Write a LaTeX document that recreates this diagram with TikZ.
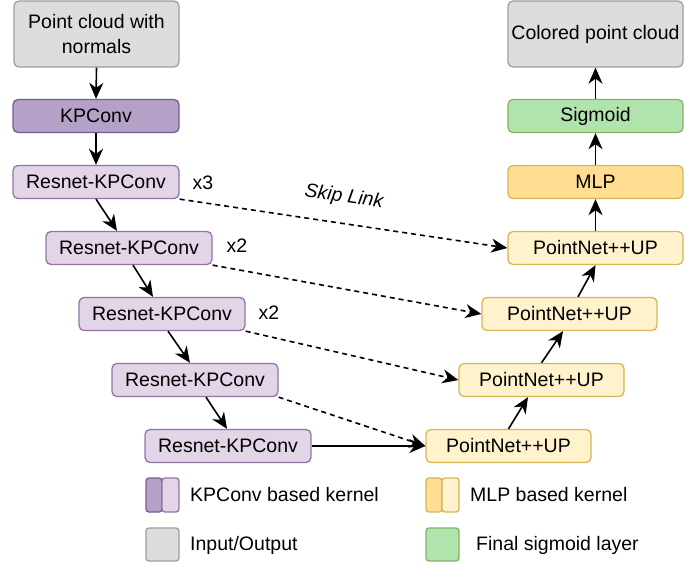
\documentclass[tikz,border=0pt]{standalone}
\usepackage{fontspec}
\setmainfont{Liberation Sans}
\usetikzlibrary{arrows.meta}

\definecolor{iogray}{HTML}{DDDDDD}
\definecolor{iograyline}{HTML}{9E9E9E}
\definecolor{kpdark}{HTML}{B5A0C8}
\definecolor{kpdarkline}{HTML}{7A5A8E}
\definecolor{kplight}{HTML}{E1D5E7}
\definecolor{kplightline}{HTML}{9673A6}
\definecolor{mlpdark}{HTML}{FFDD93}
\definecolor{mlplight}{HTML}{FFF2CC}
\definecolor{mlpline}{HTML}{D6B656}
\definecolor{siggreen}{HTML}{B0E4AC}
\definecolor{siggreenline}{HTML}{82B366}

\begin{document}
\begin{tikzpicture}[x=1pt, y=-1pt,
    txt/.style={font=\fontsize{19.5}{25}\selectfont},
    blk/.style={txt, draw, rounded corners=5pt, line width=1.3pt, minimum height=33pt, inner sep=0pt},
    kpres/.style={blk, fill=kplight, draw=kplightline, minimum width=166pt},
    pnup/.style={blk, fill=mlplight, draw=mlpline},
    arr/.style={-{Stealth[length=16pt,width=14pt,inset=5pt]}, line width=1.6pt},
    skip/.style={arr, dash pattern=on 5pt off 4pt},
    key/.style={rounded corners=3pt, line width=1.3pt}]
    \useasboundingbox (0,0) rectangle (700,562);

    % encoder
    \node[blk, fill=iogray, draw=iograyline, minimum width=165pt, minimum height=66pt, align=center] (inp) at (96.5,34) {Point cloud with\\normals};
    \node[blk, fill=kpdark, draw=kpdarkline, minimum width=166pt] (kp) at (96,116) {KPConv};
    \foreach \i/\x/\y in {1/96/182, 2/129/248, 3/162/314, 4/195/380, 5/228/446}
        \node[kpres] (r\i) at (\x,\y) {Resnet-KPConv};
    \node[txt] (rep1) at (203,183) {x3};
    \node[txt] (rep2) at (237,246) {x2};
    \node[txt] (rep3) at (269,313) {x2};

    % decoder
    \node[blk, fill=iogray, draw=iograyline, minimum width=175pt, minimum height=66pt] (out) at (595.5,34) {Colored point cloud};
    \node[blk, fill=siggreen, draw=siggreenline, minimum width=175pt] (sig) at (595.5,116) {Sigmoid};
    \node[blk, fill=mlpdark, draw=mlpline, minimum width=175pt] (mlp) at (595.5,182) {MLP};
    \node[pnup, minimum width=175pt] (p1) at (595.5,248) {PointNet++UP};
    \node[pnup, minimum width=175pt] (p2) at (569.5,314) {PointNet++UP};
    \node[pnup, minimum width=165pt] (p3) at (541.5,380) {PointNet++UP};
    \node[pnup, minimum width=165pt] (p4) at (508.5,446) {PointNet++UP};

    % connections
    \draw[arr] (inp.south) -- (kp.north);
    \draw[arr] (kp.south) -- (r1.north);
    \foreach \a/\b/\s/\e in {1/2/0/-12, 2/3/4/-9, 3/4/6/-5, 4/5/11/-1}
        \draw[arr] ([xshift=\s pt]r\a.south) -- ([xshift=\e pt]r\b.north);
    \foreach \a in {1,...,4}
        \draw[skip] (r\a.south east) -- (p\a.west);
    \draw[arr] (r5.east) -- (p4.west);
    \draw[arr] (p4.north) -- ([xshift=-13.5pt]p3.south);
    \draw[arr] (p3.north) -- ([xshift=-6.5pt]p2.south);
    \draw[arr] ([xshift=8.5pt]p2.north) -- (p1.south);
    \draw[arr] (p1.north) -- (mlp.south);
    \draw[arr] (mlp.north) -- (sig.south);
    \draw[arr] (sig.north) -- (out.south);
    \node[txt, font=\fontsize{19.5}{25}\selectfont\itshape, rotate=-8.5] (sk) at (344,197) {Skip Link};

    % legend
    \filldraw[key, fill=kpdark, draw=kpdarkline] (146,478) rectangle (162,512);
    \filldraw[key, fill=kplight, draw=kplightline] (162,478) rectangle (179,512);
    \filldraw[key, fill=iogray, draw=iograyline] (146,528) rectangle (179,561);
    \filldraw[key, fill=mlpdark, draw=mlpline] (426,478) rectangle (442,512);
    \filldraw[key, fill=mlplight, draw=mlpline] (442,478) rectangle (459,512);
    \filldraw[key, fill=siggreen, draw=siggreenline] (426,528) rectangle (459,561);
    \node[txt, anchor=west, inner sep=0pt] (lg1) at (190,495) {KPConv based kernel};
    \node[txt, anchor=west, inner sep=0pt] (lg2) at (190,545) {Input/Output};
    \node[txt, anchor=west, inner sep=0pt] (lg3) at (470,495) {MLP based kernel};
    \node[txt, anchor=west, inner sep=0pt] (lg4) at (476,545) {Final sigmoid layer};
\end{tikzpicture}
\end{document}
